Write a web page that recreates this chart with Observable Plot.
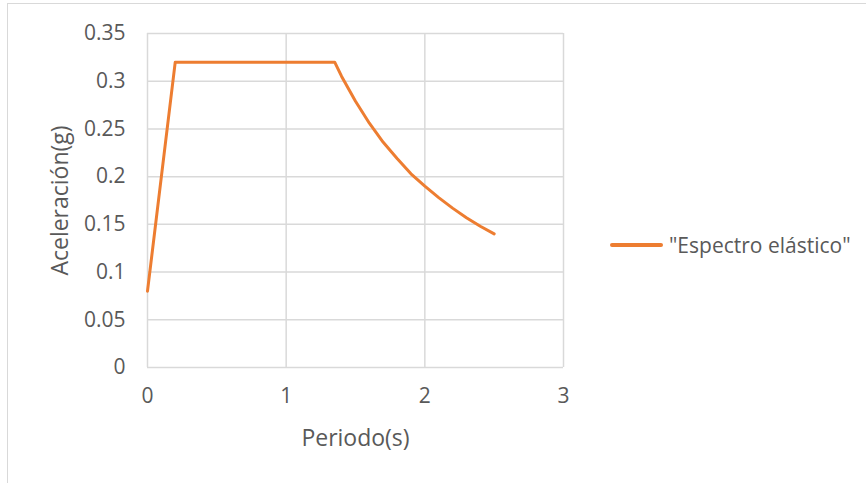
<!DOCTYPE html>
<html>
<head>
<meta charset="utf-8">
<script src="https://cdn.jsdelivr.net/npm/d3@7"></script>
<script src="https://cdn.jsdelivr.net/npm/@observablehq/plot@0.6"></script>
<style>
  html, body { margin: 0; padding: 0; background: #fff; }
  #wrap { position: relative; width: 866px; height: 483px; overflow: hidden; font-family: "Open Sans", sans-serif; }
  #frame { position: absolute; left: 7px; top: 3px; width: 880px; height: 500px; border: 1px solid #d9d9d9; box-sizing: border-box; }
  #chart { position: absolute; left: 0; top: 0; }
  #legend { position: absolute; left: 610px; top: 230px; height: 30px; display: flex; align-items: center; color: #595959; font-size: 21px; white-space: nowrap; }
  #legend .sw { width: 53px; height: 4px; background: #ED7D31; border-radius: 2px; margin-right: 6px; }
</style>
</head>
<body>
<div id="wrap">
  <div id="frame"></div>
  <div id="chart"></div>
  <div id="legend"><span class="sw"></span><span id="legtext"></span></div>
</div>
<script>
const seriesName = '"Espectro elástico"';
const periodo = [0, 0.2, 1.35, 1.4, 1.5, 1.6, 1.7, 1.8, 1.9, 2.0, 2.1, 2.2, 2.3, 2.4, 2.5];
const aceleracion = [0.08, 0.32, 0.32, 0.305, 0.279, 0.256, 0.236, 0.219, 0.203, 0.190, 0.178, 0.167, 0.157, 0.148, 0.140];
const xTicks = [0, 1, 2, 3];
const yTicks = [0, 0.05, 0.1, 0.15, 0.2, 0.25, 0.3, 0.35];
const xLabel = "Periodo(s)";
const yLabel = "Aceleración(g)";

const data = periodo.map((t, i) => ({t, a: aceleracion[i]}));
document.getElementById("legtext").textContent = seriesName;

const grid = "#d9d9d9";
const txt = "#595959";
const chart = Plot.plot({
  width: 866,
  height: 483,
  marginLeft: 147,
  marginTop: 33,
  marginRight: 303,
  marginBottom: 116,
  style: {fontFamily: "Open Sans, sans-serif", fontSize: "21px", color: txt, background: "transparent"},
  x: {domain: [0, 3], ticks: xTicks, tickFormat: d => String(d)},
  y: {domain: [0, 0.35], ticks: yTicks, tickFormat: d => String(d)},
  marks: [
    Plot.gridX(xTicks, {stroke: grid, strokeOpacity: 1, strokeWidth: 1.5}),
    Plot.gridY(yTicks, {stroke: grid, strokeOpacity: 1, strokeWidth: 1.5}),
    Plot.axisX(xTicks, {tickSize: 0, tickPadding: 21, fontSize: 21, fill: txt, label: null, tickFormat: d => String(d)}),
    Plot.axisY(yTicks, {tickSize: 0, tickPadding: 22, fontSize: 21, fill: txt, label: null, tickFormat: d => String(d)}),
    Plot.text([xLabel], {frameAnchor: "bottom", lineAnchor: "middle", dy: 71, fontSize: 23, fill: txt}),
    Plot.text([yLabel], {frameAnchor: "left", textAnchor: "middle", lineAnchor: "middle", dx: -87, rotate: -90, fontSize: 23, fill: txt}),
    Plot.line(data, {x: "t", y: "a", stroke: "#ED7D31", strokeWidth: 3, strokeLinejoin: "round", strokeLinecap: "round"})
  ]
});
document.getElementById("chart").appendChild(chart);
</script>
</body>
</html>
